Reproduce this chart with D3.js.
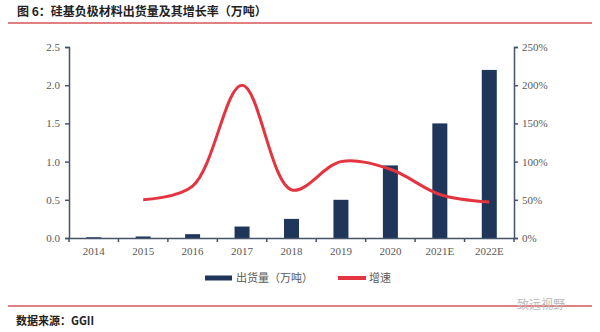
<!DOCTYPE html>
<html><head><meta charset="utf-8">
<script src="https://cdn.jsdelivr.net/npm/d3@7"></script>
<style>body{margin:0;background:#fff;}svg{display:block;}</style>
</head><body>
<script>
const categories = ["2014","2015","2016","2017","2018","2019","2020","2021E","2022E"];
const shipments = [0.01,0.02,0.05,0.15,0.25,0.5,0.95,1.5,2.2];
const growth = [null,50,68,200,63,100,90,57,47];
const leftTicks = [0,0.5,1.0,1.5,2.0,2.5];
const rightTicks = [0,50,100,150,200,250];

const W=600,H=332;
const svg=d3.select("body").append("svg").attr("width",W).attr("height",H);
const m={l:69,r:514,t:47,b:238};
const x=d3.scaleBand().domain(categories).range([m.l,m.r]);
const yL=d3.scaleLinear().domain([0,2.5]).range([m.b,m.t]);
const yR=d3.scaleLinear().domain([0,250]).range([m.b,m.t]);
const axisCol="#44546a", txtCol="#595959";
const serif="'Liberation Serif','Times New Roman',serif";
const cjk="'Noto Sans CJK SC',sans-serif";

// title
svg.append("text").attr("x",17).attr("y",16).text("图 6：硅基负极材料出货量及其增长率（万吨）")
  .attr("font-family",cjk).attr("font-weight","bold").attr("font-size",12).attr("fill","#222");
svg.append("line").attr("x1",8).attr("x2",592).attr("y1",23).attr("y2",23).attr("stroke","#c00000").attr("stroke-width",1);

// bars
svg.selectAll("rect.bar").data(categories).enter().append("rect")
  .attr("x",d=>x(d)+x.bandwidth()/2-7.5).attr("width",15)
  .attr("y",(d,i)=>yL(shipments[i])).attr("height",(d,i)=>m.b-yL(shipments[i]))
  .attr("fill","#1f3559");

// line
const pts=categories.map((c,i)=>({c,v:growth[i]})).filter(d=>d.v!=null);
svg.append("path").datum(pts)
  .attr("d",d3.line().x(d=>x(d.c)+x.bandwidth()/2).y(d=>yR(d.v)).curve(d3.curveCatmullRom.alpha(0.5)))
  .attr("fill","none").attr("stroke","#e33440").attr("stroke-width",3);

// axes
const gL=svg.append("g").attr("transform",`translate(${m.l},0)`)
  .call(d3.axisLeft(yL).tickValues(leftTicks).tickFormat(d3.format(".1f")).tickSize(4).tickPadding(5));
const gR=svg.append("g").attr("transform",`translate(${m.r},0)`)
  .call(d3.axisRight(yR).tickValues(rightTicks).tickFormat(d=>d+"%").tickSize(4).tickPadding(4));
const gX=svg.append("g").attr("transform",`translate(0,${m.b})`)
  .call(d3.axisBottom(x).tickSize(0).tickPadding(9));
// x-axis boundary ticks
svg.selectAll("line.xt").data(d3.range(categories.length+1)).enter().append("line")
  .attr("x1",i=>m.l+i*x.step()).attr("x2",i=>m.l+i*x.step())
  .attr("y1",m.b).attr("y2",m.b+4).attr("stroke",axisCol).attr("stroke-width",1.5);
[gL,gR,gX].forEach(g=>{
  g.selectAll(".domain").attr("stroke",axisCol).attr("stroke-width",1.5);
  g.selectAll(".tick line").attr("stroke",axisCol).attr("stroke-width",1.5);
  g.selectAll("text").attr("font-family",serif).attr("font-size",11).attr("fill",txtCol);
});

// legend
const lg=svg.append("g");
lg.append("rect").attr("x",205).attr("y",275.5).attr("width",27).attr("height",5).attr("fill","#1f3559");
lg.append("text").attr("x",236).attr("y",282).text("出货量（万吨）").attr("font-family",cjk).attr("font-size",11).attr("fill",txtCol);
lg.append("rect").attr("x",338).attr("y",276).attr("width",28).attr("height",4).attr("fill","#e33440");
lg.append("text").attr("x",369).attr("y",282).text("增速").attr("font-family",cjk).attr("font-size",11).attr("fill",txtCol);

// footer
svg.append("line").attr("x1",8).attr("x2",592).attr("y1",306).attr("y2",306).attr("stroke","#c00000").attr("stroke-width",1);
svg.append("text").attr("x",16).attr("y",325).text("数据来源：GGII")
  .attr("font-family",cjk).attr("font-weight","bold").attr("font-size",11).attr("fill","#222");
svg.append("text").attr("x",517).attr("y",309).text("致远视野")
  .attr("font-family",cjk).attr("font-size",12).attr("fill","#bbb");
</script>
</body></html>
